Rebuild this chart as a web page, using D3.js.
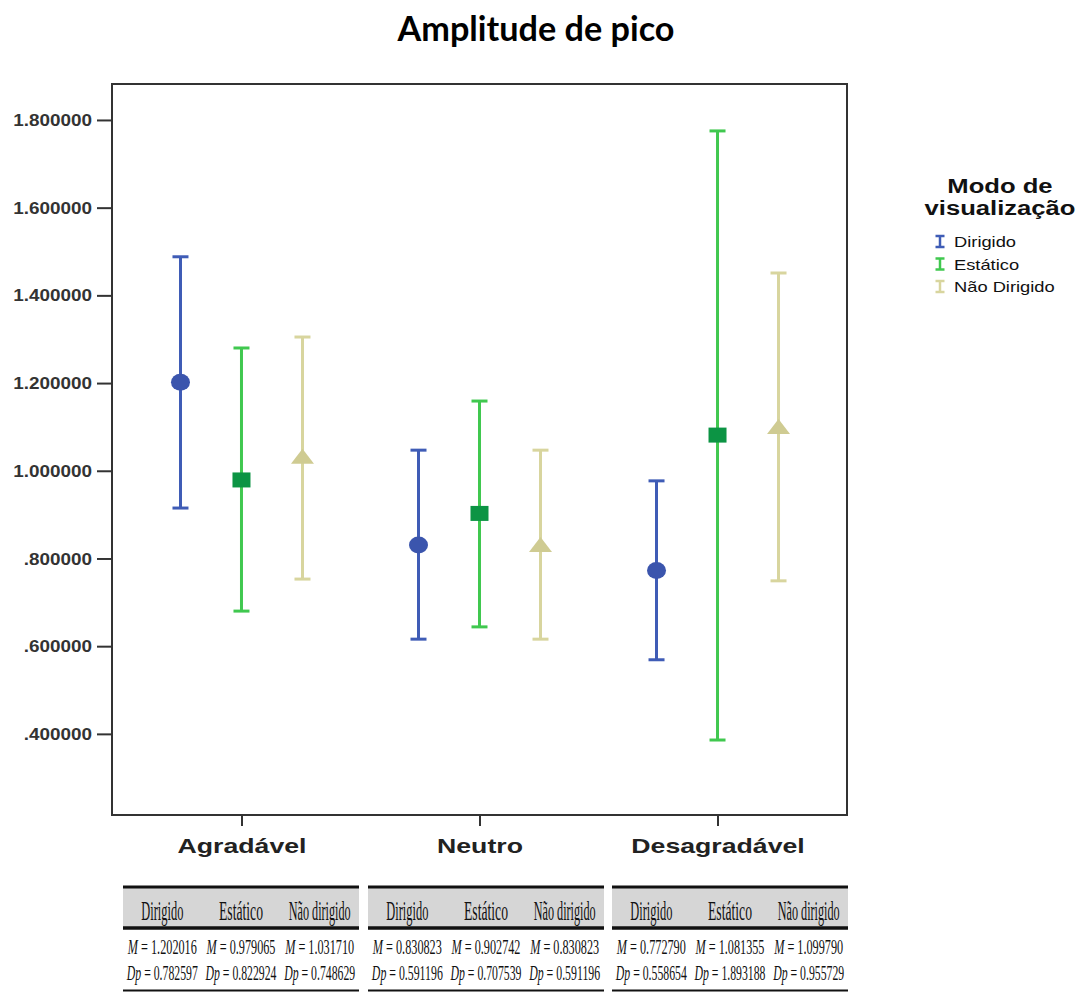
<!DOCTYPE html>
<html><head><meta charset="utf-8">
<script src="https://cdn.jsdelivr.net/npm/d3@7"></script>
<style>body{margin:0;background:#fff}svg{display:block}</style>
</head><body>
<svg id="c" width="1091" height="992"></svg>
<script>
// ---- data ----
const categories = ["Agradável", "Neutro", "Desagradável"];
const series = ["Dirigido", "Estático", "Não Dirigido"];
const meanDirigido = [1.202016, 0.830823, 0.772790];
const meanEstatico = [0.979065, 0.902742, 1.081355];
const meanNaoDirigido = [1.031710, 0.830823, 1.099790];
const lowDirigido = [0.915, 0.616, 0.569];
const highDirigido = [1.488, 1.047, 0.977];
const lowEstatico = [0.680, 0.644, 0.386];
const highEstatico = [1.280, 1.159, 1.775];
const lowNaoDirigido = [0.753, 0.616, 0.749];
const highNaoDirigido = [1.305, 1.047, 1.451];
const yTicks = [0.4, 0.6, 0.8, 1.0, 1.2, 1.4, 1.6, 1.8];
const tableHeaders = ["Dirigido", "Estático", "Não dirigido"];
const tableM = [["1.202016","0.979065","1.031710"],["0.830823","0.902742","0.830823"],["0.772790","1.081355","1.099790"]];
const tableDp = [["0.782597","0.822924","0.748629"],["0.591196","0.707539","0.591196"],["0.558654","1.893188","0.955729"]];

const means = [meanDirigido, meanEstatico, meanNaoDirigido];
const lows = [lowDirigido, lowEstatico, lowNaoDirigido];
const highs = [highDirigido, highEstatico, highNaoDirigido];
const lineColors = ["#3f5cb6", "#40c84f", "#d8d59e"];
const markColors = ["#3b55ad", "#0c9444", "#cfcb92"];

const svg = d3.select("#c");
const L = 112, R = 847, T = 84, B = 815;
const x = d3.scalePoint().domain(categories).range([L, R]).padding(0.544);
const xs = d3.scalePoint().domain(series).range([-61, 61]);
const y = d3.scaleLinear().domain([0.215, 1.882]).range([B, T]);

function stretch(sel, f) {
  sel.each(function () {
    const w = this.getComputedTextLength();
    d3.select(this).attr("textLength", w * f).attr("lengthAdjust", "spacingAndGlyphs");
  });
}
// place text at (px,py) horizontally scaled to width w (centered)
function scaledText(g, px, py, w) {
  const outer = g.append("g").attr("transform", `translate(${px},${py})`);
  const t = outer.append("text").attr("x", 0).attr("y", 0).attr("text-anchor", "middle");
  return {outer, t, done() {
    const nat = t.node().getComputedTextLength();
    t.attr("transform", `scale(${w / nat},1)`);
  }};
}

// title
svg.append("text").attr("x", 536).attr("y", 41).attr("text-anchor", "middle")
  .attr("font-family", "Lato, 'Open Sans', sans-serif").attr("font-weight", "bold")
  .attr("font-size", 34).attr("fill", "#000").text("Amplitude de pico")
  .attr("textLength", 277).attr("lengthAdjust", "spacingAndGlyphs");

// frame
svg.append("rect").attr("x", L).attr("y", T).attr("width", R - L).attr("height", B - T)
  .attr("fill", "none").attr("stroke", "#333").attr("stroke-width", 2);

// y axis
const yAxis = svg.append("g").attr("transform", `translate(${L},0)`)
  .call(d3.axisLeft(y).tickValues(yTicks).tickSize(15).tickPadding(5)
    .tickFormat(d => d3.format(".6f")(d).replace(/^0/, "")));
yAxis.select(".domain").remove();
yAxis.selectAll("line").attr("stroke", "#333").attr("stroke-width", 2);
yAxis.selectAll("text").attr("font-family", "'Liberation Sans', Arial, sans-serif")
  .attr("font-weight", "bold").attr("font-size", 16).attr("fill", "#333").attr("dy", "0.35em");
stretch(yAxis.selectAll("text"), 1.18);

// x axis
const xAxis = svg.append("g").attr("transform", `translate(0,${B})`)
  .call(d3.axisBottom(x).tickSize(11).tickPadding(12));
xAxis.select(".domain").remove();
xAxis.selectAll("line").attr("stroke", "#333").attr("stroke-width", 2);
xAxis.selectAll("text").attr("font-family", "'Liberation Sans', Arial, sans-serif")
  .attr("font-weight", "bold").attr("font-size", 21).attr("fill", "#222");
stretch(xAxis.selectAll("text"), 1.27);

// error bars
const capW = 16;
series.forEach((s, si) => {
  const g = svg.append("g");
  categories.forEach((c, ci) => {
    const cx = x(c) + xs(s);
    const y0 = y(lows[si][ci]), y1 = y(highs[si][ci]);
    g.append("line").attr("x1", cx).attr("x2", cx).attr("y1", y0).attr("y2", y1)
      .attr("stroke", lineColors[si]).attr("stroke-width", 3);
    [y0, y1].forEach(yy => g.append("line").attr("x1", cx - capW / 2).attr("x2", cx + capW / 2)
      .attr("y1", yy).attr("y2", yy).attr("stroke", lineColors[si]).attr("stroke-width", 3));
    const my = y(means[si][ci]);
    if (si === 0) {
      g.append("ellipse").attr("cx", cx).attr("cy", my).attr("rx", 9.5).attr("ry", 8.5).attr("fill", markColors[si]);
    } else if (si === 1) {
      g.append("rect").attr("x", cx - 9).attr("y", my - 7.5).attr("width", 18).attr("height", 15).attr("fill", markColors[si]);
    } else {
      g.append("path").attr("d", `M${cx - 11.5},${my + 7}L${cx + 11.5},${my + 7}L${cx},${my - 8}Z`).attr("fill", markColors[si]);
    }
  });
});

// legend
const lg = svg.append("g");
["Modo de", "visualização"].forEach((t, i) => {
  lg.append("text").attr("x", 1000).attr("y", 193 + i * 22).attr("text-anchor", "middle")
    .attr("font-family", "'Liberation Sans', Arial, sans-serif").attr("font-weight", "bold")
    .attr("font-size", 20).attr("fill", "#111").text(t);
});
stretch(lg.selectAll("text"), 1.28);
series.forEach((s, i) => {
  const by = 247 + i * 22.5;
  const ix = 940;
  lg.append("line").attr("x1", ix).attr("x2", ix).attr("y1", by - 11).attr("y2", by).attr("stroke", lineColors[i]).attr("stroke-width", 2.5);
  [by - 11, by].forEach(yy => lg.append("line").attr("x1", ix - 4.5).attr("x2", ix + 4.5).attr("y1", yy).attr("y2", yy).attr("stroke", lineColors[i]).attr("stroke-width", 2.5));
  const t = lg.append("text").attr("x", 954).attr("y", by).attr("font-family", "'Liberation Sans', Arial, sans-serif")
    .attr("font-size", 15).attr("fill", "#111").text(s);
  stretch(t, 1.22);
});

// tables
const tableLeft = [123, 368, 612];
const tw = 236;
const headerW = [42, 44, 62];
const serif = "'Liberation Serif', 'DejaVu Serif', serif";
tableLeft.forEach((tl, ti) => {
  const g = svg.append("g");
  g.append("rect").attr("x", tl).attr("y", 888).attr("width", tw).attr("height", 39).attr("fill", "#d6d6d6");
  g.append("line").attr("x1", tl).attr("x2", tl + tw).attr("y1", 887).attr("y2", 887).attr("stroke", "#111").attr("stroke-width", 3);
  g.append("line").attr("x1", tl).attr("x2", tl + tw).attr("y1", 928).attr("y2", 928).attr("stroke", "#111").attr("stroke-width", 3.5);
  g.append("line").attr("x1", tl).attr("x2", tl + tw).attr("y1", 990.5).attr("y2", 990.5).attr("stroke", "#111").attr("stroke-width", 2);
  tableHeaders.forEach((h, ci) => {
    const cx = tl + tw * (ci + 0.5) / 3;
    const a = scaledText(g, cx, 920, headerW[ci]);
    a.t.attr("font-family", serif).attr("font-size", 27).attr("fill", "#111").text(h);
    a.done();
    const b = scaledText(g, cx, 954, 69);
    b.t.attr("font-family", serif).attr("font-size", 20).attr("fill", "#111");
    b.t.append("tspan").attr("font-style", "italic").text("M");
    b.t.append("tspan").text(" = " + tableM[ti][ci]);
    b.done();
    const c = scaledText(g, cx, 980, 71);
    c.t.attr("font-family", serif).attr("font-size", 20).attr("fill", "#111");
    c.t.append("tspan").attr("font-style", "italic").text("Dp");
    c.t.append("tspan").text(" = " + tableDp[ti][ci]);
    c.done();
  });
});
</script>
</body></html>
